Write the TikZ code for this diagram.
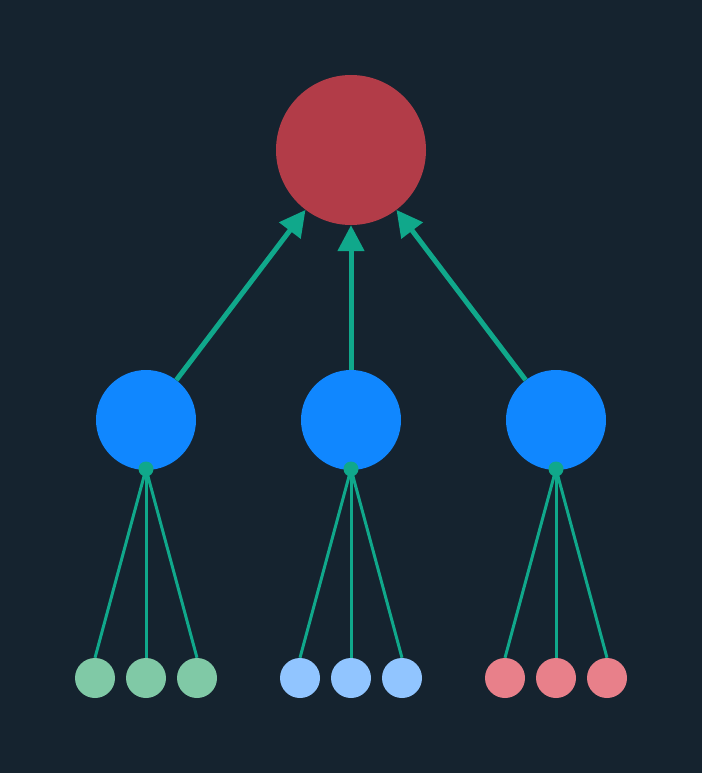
\documentclass[tikz,border=0pt]{standalone}
\usetikzlibrary{arrows.meta}
\definecolor{bgdark}{HTML}{15232F}
\definecolor{rootred}{HTML}{B23C48}
\definecolor{midblue}{HTML}{1087FF}
\definecolor{teal}{HTML}{10A88B}
\definecolor{leafgreen}{HTML}{80C9A6}
\definecolor{leafblue}{HTML}{91C5FF}
\definecolor{leafred}{HTML}{E8808A}
\begin{document}
\begin{tikzpicture}[x=1pt,y=-1pt,
  rootnode/.style={circle,fill=rootred,minimum size=150pt,inner sep=0pt},
  midnode/.style={circle,fill=midblue,minimum size=100pt,inner sep=0pt},
  hub/.style={circle,fill=teal,minimum size=15pt,inner sep=0pt},
  leaf/.style={circle,minimum size=40pt,inner sep=0pt},
  uplink/.style={draw=teal,line width=5pt,-{Triangle[length=26pt,width=26pt]}},
  downlink/.style={draw=teal,line width=3pt}]
\fill[bgdark] (0,0) rectangle (702,773);
\useasboundingbox (0,0) rectangle (702,773);

\node[rootnode] (root) at (351,150) {};
\foreach \x/\n in {146/a,351/b,556/c}{
  \node[midnode] (m\n) at (\x,420) {};
}
\foreach \n in {a,b,c}{
  \draw[uplink] (m\n) -- (root);
}

% leaves under each middle node
\foreach \x/\n/\col in {146/a/leafgreen,351/b/leafblue,556/c/leafred}{
  \coordinate (h\n) at (\x,469);
  \node[leaf,fill=\col] (\n1) at (\x-51,678) {};
  \node[leaf,fill=\col] (\n2) at (\x,678) {};
  \node[leaf,fill=\col] (\n3) at (\x+51,678) {};
  \foreach \k in {1,2,3}{
    \draw[downlink] (h\n) -- (\n\k.north);
  }
  \node[hub] at (h\n) {};
}
\end{tikzpicture}
\end{document}
